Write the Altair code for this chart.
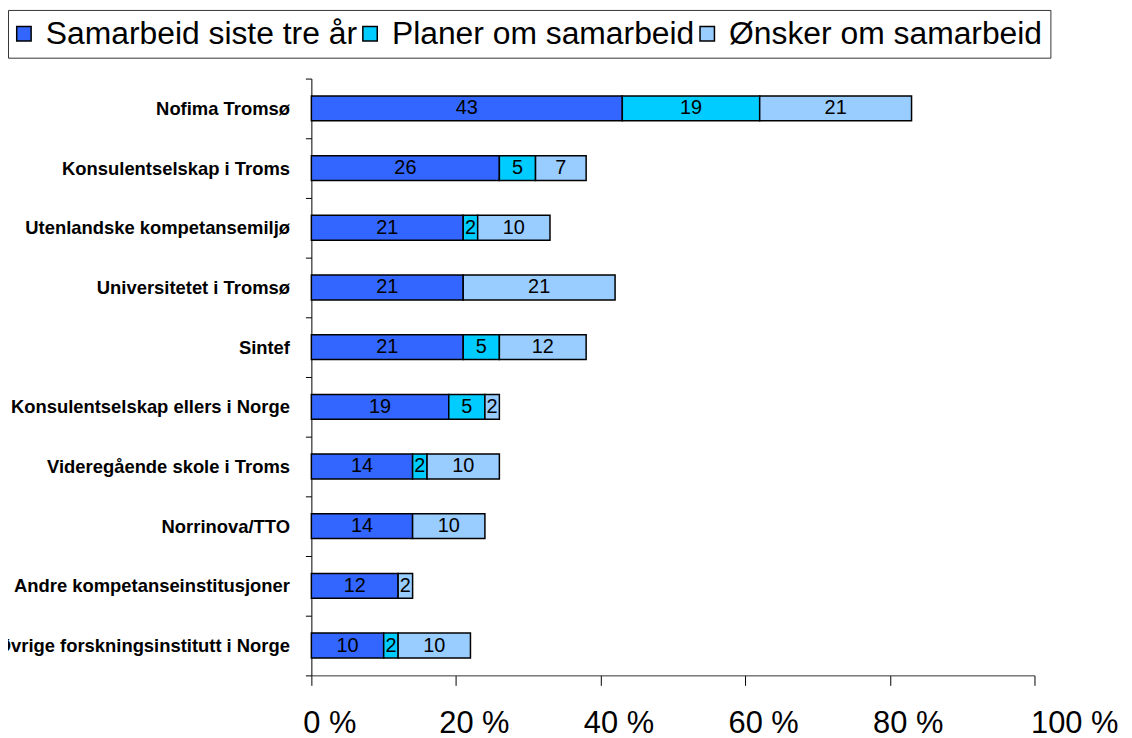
import altair as alt
import pandas as pd

categories = [
    "Nofima Tromsø",
    "Konsulentselskap i Troms",
    "Utenlandske kompetansemiljø",
    "Universitetet i Tromsø",
    "Sintef",
    "Konsulentselskap ellers i Norge",
    "Videregående skole i Troms",
    "Norrinova/TTO",
    "Andre kompetanseinstitusjoner",
    "Øvrige forskningsinstitutt i Norge",
]
series = ["Samarbeid siste tre år", "Planer om samarbeid", "Ønsker om samarbeid"]
samarbeid = [43, 26, 21, 21, 21, 19, 14, 14, 12, 10]
planer = [19, 5, 2, 0, 5, 5, 2, 0, 0, 2]
onsker = [21, 7, 10, 21, 12, 2, 10, 10, 2, 10]
colors = ["#3366FF", "#00CCFF", "#99CCFF"]
tick_values = [0, 20, 40, 60, 80, 100]

rows = []
for i, c in enumerate(categories):
    for k, (s, vals) in enumerate(zip(series, [samarbeid, planer, onsker])):
        rows.append({"category": c, "series": s, "order": k, "value": vals[i]})
df = pd.DataFrame(rows)

FONT = "Liberation Sans"

base = (
    alt.Chart(df)
    .transform_filter("datum.value > 0")
    .transform_stack(
        stack="value",
        as_=["x0", "x1"],
        groupby=["category"],
        sort=[alt.SortField("order", order="ascending")],
    )
    .transform_calculate(mid="(datum.x0 + datum.x1) / 2")
)

y_enc = alt.Y(
    "category:N",
    sort=categories,
    title=None,
    scale=alt.Scale(paddingInner=0, paddingOuter=0),
    axis=alt.Axis(
        labelFont=FONT,
        labelFontSize=18.5,
        labelFontWeight="bold",
        labelColor="#000000",
        labelLimit=600,
        labelPadding=16,
        tickSize=6,
        tickColor="#000000",
        tickBand="extent",
        domainColor="#000000",
        domainWidth=1,
        grid=False,
    ),
)

x_scale = alt.Scale(domain=[0, 100], nice=False)

bars = base.mark_bar(size=25, stroke="#000000", strokeWidth=1.5).encode(
    x=alt.X(
        "x0:Q",
        scale=x_scale,
        title=None,
        axis=alt.Axis(
            values=tick_values,
            labelExpr="datum.value + ' %'",
            labelFont=FONT,
            labelFontSize=31,
            labelColor="#000000",
            labelOffset={"condition": {"test": "datum.value == 100", "value": 40}, "value": 18},
            labelPadding=23,
            labelFlush=False,
            labelOverlap=False,
            tickSize=10,
            tickColor="#000000",
            domainColor="#333333",
            domainWidth=1,
            grid=False,
        ),
    ),
    x2="x1:Q",
    y=y_enc,
    color=alt.Color(
        "series:N",
        scale=alt.Scale(domain=series, range=colors),
        legend=alt.Legend(
            title=None,
            orient="none",
            direction="horizontal",
            legendX=-305,
            legendY=-69,
            labelFont=FONT,
            labelFontSize=32,
            labelColor="#000000",
            labelOffset=6,
            symbolOffset=-8,
            columnPadding=1,
            symbolType="square",
            symbolSize=210,
            symbolStrokeColor="#000000",
            symbolStrokeWidth=1.5,
            symbolOpacity=1,
            fillColor="#FFFFFF",
            strokeColor="#333333",
            padding=8,
            labelLimit=600,
        ),
    ),
)

labels = base.mark_text(font=FONT, fontSize=20, color="#000000", baseline="middle", align="center").encode(
    x=alt.X("mid:Q", scale=x_scale),
    y=alt.Y("category:N", sort=categories),
    text=alt.Text("value:Q"),
)

chart = (
    alt.layer(bars, labels)
    .properties(
        width=727,
        height=600,
        autosize=alt.AutoSizeParams(type="none"),
        padding={"left": 305, "top": 69, "right": 90, "bottom": 60},
        background="#FFFFFF",
    )
    .configure_view(stroke=None)
)

chart.save("out.html", embed_options={"renderer": "svg", "actions": False})
